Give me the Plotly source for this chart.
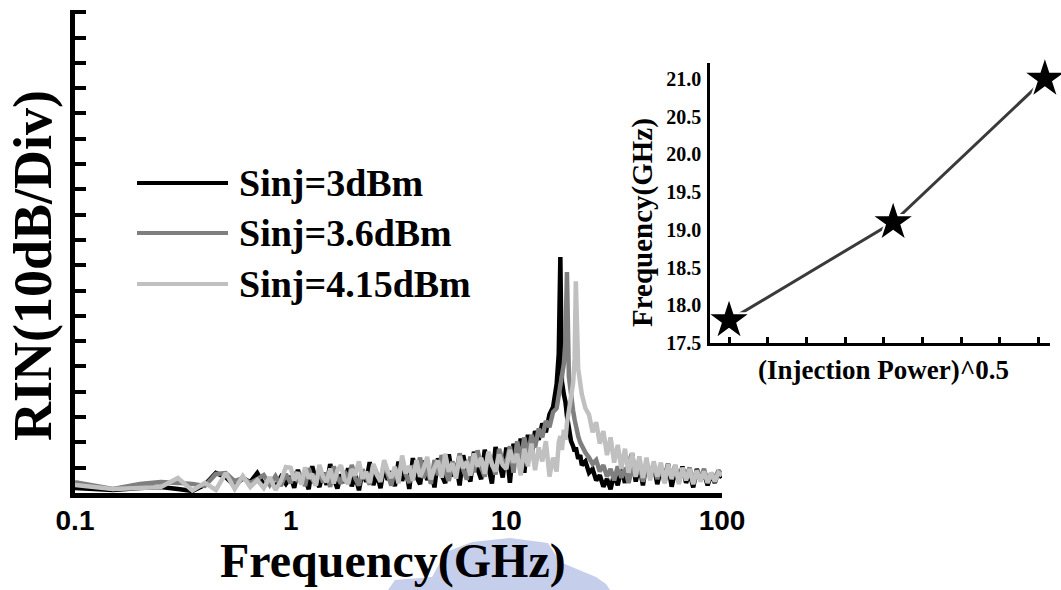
import plotly.graph_objects as go

# ---------------- RIN spectra (frequency in GHz, RIN in dB) ----------------
freq_ghz = [
    0.1, 0.15, 0.2, 0.25, 0.3, 0.35, 0.4, 0.45, 0.5, 0.55, 0.6, 0.65, 0.7, 0.75, 0.8, 0.85, 0.9, 0.95,
    1.000, 1.039, 1.080, 1.122, 1.166, 1.212, 1.259, 1.308, 1.359, 1.413,
    1.468, 1.525, 1.585, 1.647, 1.711, 1.778, 1.848, 1.920, 1.995, 2.073,
    2.154, 2.239, 2.326, 2.417, 2.512, 2.610, 2.712, 2.818, 2.929, 3.043,
    3.162, 3.286, 3.415, 3.548, 3.687, 3.831, 3.981, 4.137, 4.299, 4.467,
    4.642, 4.823, 5.012, 5.208, 5.412, 5.623, 5.843, 6.072, 6.310, 6.557,
    6.813, 7.079, 7.356, 7.644, 7.943, 8.254, 8.577, 8.913, 9.261, 9.624,
    10.0, 10.39, 10.80, 11.22, 11.66, 12.12, 12.59, 13.08, 13.59, 14.13,
    14.68, 15.25, 15.85, 16.47, 17.11, 17.5, 17.8, 18.1, 18.48, 18.8,
    19.1, 19.5, 19.95, 20.4, 20.73, 21.0, 21.54, 22.0, 22.39, 23.26,
    24.17, 25.12, 26.10, 27.12, 28.18, 29.29, 30.43, 31.62, 32.86, 34.15,
    35.48, 36.87, 38.31, 39.81, 41.37, 42.99, 44.67, 46.42, 48.23, 50.12,
    52.08, 54.12, 56.23, 58.43, 60.72, 63.10, 65.57, 68.13, 70.79, 73.56,
    76.44, 79.43, 82.54, 85.77, 89.13, 92.61, 96.24, 100.0,
]

rin_3dbm = [
    -168.0, -168.8, -168.0, -167.6, -168.4, -169.2, -166.8, -162.1, -163.7, -167.2,
    -164.1, -165.7, -162.1, -166.8, -165.3, -167.6, -163.7, -166.4,
    -163.5, -167.9, -160.8, -166.2, -164.0, -168.5, -159.4, -165.1, -167.6, -161.9,
    -166.8, -158.6, -164.3, -168.2, -162.7, -165.9, -160.2, -167.4, -163.1, -168.9,
    -161.2, -165.6, -157.8, -166.9, -162.4, -168.1, -159.7, -164.8, -161.5, -167.3,
    -157.6, -165.2, -159.9, -168.4, -156.2, -163.7, -166.5, -157.2, -164.9, -160.3,
    -167.8, -156.3, -162.9, -166.1, -154.7, -163.4, -158.4, -167.0, -155.1, -161.8,
    -165.4, -153.7, -160.5, -164.6, -152.9, -159.2, -166.3, -151.8, -158.7, -163.9,
    -152.0, -166.0, -150.5, -158.0, -148.5, -162.0, -147.0, -155.0, -145.5, -149.0,
    -142.5, -146.0, -139.0, -136.0, -127.0, -115.0, -76.7, -126.0, -131.0, -134.0,
    -139.5, -146.0, -149.5, -151.5, -153.5, -152.0, -156.5, -155.0, -159.0, -157.5,
    -162.0, -160.5, -165.0, -163.0, -167.5, -164.5, -168.5, -162.5, -167.0, -160.0,
    -166.0, -158.5, -154.5, -165.5, -159.0, -167.0, -158.0, -163.0, -159.0, -166.5,
    -160.5, -164.0, -158.5, -167.5, -161.0, -165.5, -159.5, -166.0, -162.0, -167.8,
    -160.5, -165.0, -162.0, -167.0, -162.5, -166.0, -161.5, -164.0,
]

rin_3p6dbm = [
    -165.7, -168.4, -166.4, -165.7, -166.0, -166.4, -167.2, -162.5, -162.1, -165.3,
    -164.1, -166.0, -164.5, -162.9, -166.8, -163.3, -167.2, -162.5,
    -166.1, -161.7, -165.5, -162.3, -167.3, -160.2, -164.6, -166.9, -160.9, -165.8,
    -162.0, -167.6, -159.5, -163.8, -166.3, -161.4, -165.0, -158.9, -164.2, -167.0,
    -160.7, -163.9, -166.6, -159.0, -162.8, -165.7, -158.2, -163.3, -167.1, -160.1,
    -164.5, -156.9, -162.6, -166.0, -159.1, -161.7, -156.0, -164.1, -159.6, -166.4,
    -157.0, -163.0, -155.0, -161.3, -165.2, -157.5, -162.1, -154.3, -160.8, -164.7,
    -155.6, -161.9, -153.1, -159.9, -163.5, -154.0, -158.6, -162.7, -152.6, -157.4,
    -158.0, -151.5, -162.0, -149.5, -157.0, -148.0, -155.5, -147.0, -152.0, -144.5,
    -148.0, -141.5, -144.0, -138.0, -136.5, -131.5, -130.0, -124.5, -119.0, -110.0,
    -82.7, -124.0, -132.0, -137.5, -141.0, -144.0, -147.5, -150.0, -151.5, -154.0,
    -156.0, -158.5, -157.0, -161.5, -159.0, -163.5, -160.5, -165.0, -159.5, -164.0,
    -160.0, -166.0, -160.5, -163.5, -158.5, -165.5, -160.0, -162.5, -158.5, -164.5,
    -159.5, -166.0, -160.5, -163.0, -159.0, -165.0, -161.0, -163.5, -160.0, -166.0,
    -161.5, -164.0, -160.5, -165.5, -162.0, -164.5, -161.0, -163.0,
]

rin_4p15dbm = [
    -166.8, -168.4, -168.0, -167.6, -164.1, -169.0, -166.0, -168.8, -162.1, -168.4,
    -163.3, -167.6, -164.9, -168.0, -163.7, -168.8, -165.3, -159.7,
    -160.0, -165.0, -161.8, -166.7, -159.9, -164.2, -162.5, -167.1, -158.9, -163.6,
    -165.6, -160.3, -166.2, -161.1, -159.0, -164.7, -166.4, -160.6, -163.0, -157.5,
    -164.4, -161.6, -166.0, -158.5, -162.9, -165.3, -157.0, -161.4, -164.0, -159.6,
    -166.2, -155.2, -162.2, -159.3, -165.1, -157.0, -163.6, -160.4, -155.7, -164.6,
    -160.1, -157.2, -163.9, -154.5, -161.6, -158.2, -164.3, -155.4, -160.2, -157.6,
    -163.1, -154.3, -159.6, -156.1, -162.4, -153.6, -158.8, -161.5, -154.8, -159.0,
    -160.5, -153.0, -158.0, -154.5, -163.0, -152.5, -159.5, -150.5, -161.0, -152.0,
    -157.5, -149.5, -163.5, -156.0, -161.5, -150.0, -147.5, -153.0, -145.0, -149.0,
    -142.5, -138.0, -133.5, -126.5, -117.0, -86.3, -121.0, -128.5, -131.0, -136.5,
    -139.0, -146.0, -142.0, -150.5, -145.5, -155.0, -148.0, -158.0, -151.0, -160.5,
    -152.5, -162.0, -154.0, -163.5, -155.5, -164.0, -156.0, -165.0, -157.5, -163.5,
    -158.0, -166.0, -158.5, -164.5, -159.0, -166.5, -160.0, -165.0, -160.5, -166.5,
    -161.0, -165.5, -161.5, -166.0, -162.0, -165.5, -162.0, -163.0,
]

series_names = ["Sinj=3dBm", "Sinj=3.6dBm", "Sinj=4.15dBm"]
series_colors = ["#000000", "#7f7f7f", "#c0c0c0"]
freq_ticks = [0.1, 1, 10, 100]
freq_ticklabels = ["0.1", "1", "10", "100"]

# ---------------- resonance frequency vs sqrt(injection power) ----------------
inj_sqrt = [1.41, 1.516, 1.614]
res_freq_ghz = [17.8, 19.1, 21.0]
res_yticks = [17.5, 18.0, 18.5, 19.0, 19.5, 20.0, 20.5, 21.0]
res_yticklabels = ["17.5", "18.0", "18.5", "19.0", "19.5", "20.0", "20.5", "21.0"]

W, H = 1061, 590
SERIF = "Liberation Serif, Times New Roman, serif"
SANS = "Liberation Sans, Arial, sans-serif"


def fx(x):
    return x / W


def fy(y):
    return 1 - y / H


fig = go.Figure()

for vals, name, color in zip([rin_3dbm, rin_3p6dbm, rin_4p15dbm], series_names, series_colors):
    fig.add_trace(go.Scatter(
        x=freq_ghz, y=vals, name=name, mode="lines",
        line=dict(color=color, width=4.5),
        xaxis="x", yaxis="y", showlegend=False, hoverinfo="skip",
    ))

# inset: connecting line, white halo so the line stops short of each star, black stars
fig.add_trace(go.Scatter(
    x=inj_sqrt, y=res_freq_ghz, mode="lines",
    line=dict(color="#3a3a3a", width=3),
    xaxis="x2", yaxis="y2", showlegend=False, hoverinfo="skip",
))
fig.add_trace(go.Scatter(
    x=inj_sqrt, y=res_freq_ghz, mode="markers", cliponaxis=False,
    marker=dict(symbol="star", size=38, color="white"),
    xaxis="x2", yaxis="y2", showlegend=False, hoverinfo="skip",
))
fig.add_trace(go.Scatter(
    x=inj_sqrt, y=res_freq_ghz, mode="markers", cliponaxis=False,
    marker=dict(symbol="star", size=28, color="black"),
    xaxis="x2", yaxis="y2", showlegend=False, hoverinfo="skip",
))

fig.update_layout(
    template="none",
    width=W, height=H,
    margin=dict(l=0, r=0, t=0, b=0, pad=0, autoexpand=False),
    paper_bgcolor="white", plot_bgcolor="rgba(0,0,0,0)",
    xaxis=dict(
        type="log", range=[-1, 2], domain=[fx(75), fx(722)], anchor="y",
        automargin=False,
        showline=True, linewidth=5, linecolor="black", layer="above traces",
        ticks="", tickvals=freq_ticks, ticktext=freq_ticklabels,
        tickfont=dict(family=SANS, size=28, color="black", weight="bold"),
        ticklabelstandoff=-2,
        showgrid=False, zeroline=False,
    ),
    yaxis=dict(
        range=[-170, 20.9], domain=[fy(493), fy(10)], anchor="x",
        automargin=False,
        showline=True, linewidth=5, linecolor="black", layer="above traces",
        ticks="inside", ticklen=11, tickwidth=4, tickcolor="black",
        tick0=-170, dtick=10, showticklabels=False,
        showgrid=False, zeroline=False,
    ),
    xaxis2=dict(
        range=[1.3977, 1.6173], domain=[fx(710), fx(1050)], anchor="y2",
        automargin=False,
        showline=True, linewidth=2.5, linecolor="black",
        ticks="inside", ticklen=6, tickwidth=2.5, tickcolor="black",
        tick0=1.41, dtick=0.025, showticklabels=False,
        showgrid=False, zeroline=False,
    ),
    yaxis2=dict(
        range=[17.5, 21.21], domain=[fy(343), fy(63)], anchor="x2",
        automargin=False,
        showline=True, linewidth=2.5, linecolor="black",
        ticks="", tickvals=res_yticks, ticktext=res_yticklabels,
        tickfont=dict(family=SERIF, size=20, color="black", weight="bold"),
        ticklabelstandoff=2,
        showgrid=False, zeroline=False,
    ),
)

# faint bluish emblem behind the bottom title
fig.add_shape(
    type="path", xref="paper", yref="paper", layer="below",
    path=("M {} {} L {} {} L {} {} L {} {} L {} {} L {} {} L {} {} L {} {} L {} {} L {} {} L {} {} Z").format(
        fx(388), fy(590), fx(395), fy(580), fx(432), fy(577), fx(446), fy(552),
        fx(472), fy(542), fx(510), fy(538), fx(548), fy(543), fx(560), fy(562),
        fx(596), fy(577), fx(606), fy(584), fx(610), fy(590)),
    fillcolor="rgba(140,158,216,0.5)", line=dict(width=0),
)

# legend: line samples and labels
legend_rows = [183, 233, 284]
for row, name, color in zip(legend_rows, series_names, series_colors):
    fig.add_shape(type="line", xref="paper", yref="paper",
                  x0=fx(137), x1=fx(228), y0=fy(row), y1=fy(row),
                  line=dict(color=color, width=4))
    fig.add_annotation(x=fx(237), y=fy(row), xref="paper", yref="paper",
                       text=name, showarrow=False, xanchor="left", yanchor="middle",
                       font=dict(family=SERIF, size=38, color="black", weight="bold"))

# axis titles
fig.add_annotation(x=fx(33), y=fy(266), xref="paper", yref="paper",
                   text="RIN(10dB/Div)", textangle=-90, showarrow=False,
                   xanchor="center", yanchor="middle",
                   font=dict(family=SERIF, size=54, color="black", weight="bold"))
fig.add_annotation(x=fx(393), y=fy(561), xref="paper", yref="paper",
                   text="Frequency(GHz)", showarrow=False,
                   xanchor="center", yanchor="middle",
                   font=dict(family=SERIF, size=48, color="black", weight="bold"))
fig.add_annotation(x=fx(643), y=fy(223), xref="paper", yref="paper",
                   text="Frequency(GHz)", textangle=-90, showarrow=False,
                   xanchor="center", yanchor="middle",
                   font=dict(family=SERIF, size=29, color="black", weight="bold"))
fig.add_annotation(x=fx(883), y=fy(370), xref="paper", yref="paper",
                   text="(Injection Power)^0.5", showarrow=False,
                   xanchor="center", yanchor="middle",
                   font=dict(family=SERIF, size=27, color="black", weight="bold"))

fig.write_html("out.html")
